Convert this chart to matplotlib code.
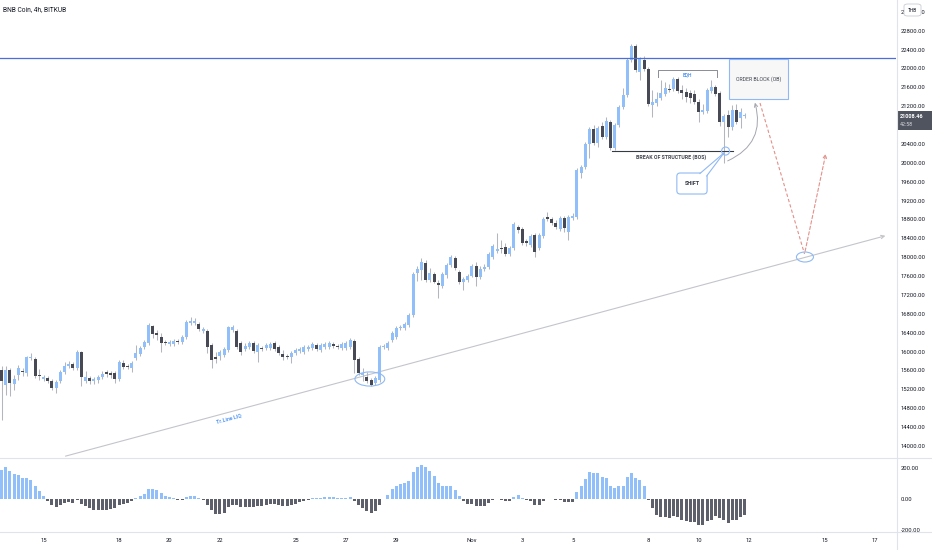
import datetime as dt
import math

import matplotlib

matplotlib.use("Agg")
import matplotlib.pyplot as plt
import numpy as np
from matplotlib.lines import Line2D
from matplotlib.patches import Ellipse, FancyArrowPatch, FancyBboxPatch, Polygon, Rectangle

W, H = 932, 550
UP = "#90bff9"
DOWN = "#474a54"
WICK = "#b3b6bd"
TEXT = "#131722"
SEP = "#e0e3eb"
OUTLINE = "#8fb9f3"

plt.rcParams["font.family"] = ["Roboto", "DejaVu Sans"]

TITLE = "BNB Coin, 4h, BITKUB"
FIRST_CANDLE = dt.datetime(2021, 10, 13, 8)
CANDLE_HOURS = 4

OPEN = [
    15610, 15290, 15610, 15310, 15510, 15590, 15550, 15870, 15840, 15510,
    15420, 15440, 15380, 15230, 15380, 15570, 15700, 15740, 15650, 15990,
    15380, 15440, 15380, 15400, 15460, 15570, 15550, 15550, 15420, 15760,
    15700, 15650, 15860, 15950, 16100, 16180, 16540, 16400, 16310, 16200,
    16160, 16160, 16230, 16200, 16310, 16610, 16610, 16590, 16440, 16440,
    16140, 15890, 15910, 15930, 16030, 16460, 16440, 16180, 16060, 16100,
    16180, 15990, 16080, 16080, 16080, 16180, 16100, 15950, 15910, 15890,
    15970, 16010, 15990, 16060, 16080, 16140, 16030, 16100, 16100, 16160,
    16120, 16080, 16080, 16100, 16230, 15840, 15510, 15460, 15400, 15340,
    15400, 16100, 16080, 16250, 16310, 16500, 16500, 16560, 16780, 17670,
    17730, 17880, 17520, 17650, 17450, 17390, 17620, 17840, 17980, 17690,
    17480, 17520, 17600, 17810, 17580, 17750, 17790, 18010, 18130, 18190,
    18220, 18070, 18200, 18640, 18600, 18340, 18260, 18470, 18200, 18450,
    18850, 18810, 18730, 18600, 18830, 18540, 18830, 18850, 19780, 19910,
    20400, 20720, 20420, 20780, 20550, 20870, 20310, 20800, 21180, 21440,
    22180, 22480, 21930, 22180, 21990, 21230, 21270, 21380, 21460, 21570,
    21560, 21780, 21540, 21500, 21480, 21460, 21290, 21080, 21100, 21520,
    21610, 21480, 20870, 21010, 20760, 21120, 20950, 21000,
]
HIGH = [
    15700, 15700, 15650, 15510, 15720, 15650, 15910, 15970, 15890, 15630,
    15510, 15480, 15420, 15400, 15610, 15780, 15800, 15780, 16030, 16010,
    15590, 15480, 15460, 15510, 15590, 15610, 15590, 15590, 15820, 15820,
    15740, 15800, 16140, 16120, 16250, 16610, 16560, 16460, 16400, 16250,
    16250, 16270, 16270, 16350, 16670, 16730, 16710, 16630, 16520, 16480,
    16180, 15990, 16030, 16100, 16540, 16560, 16480, 16230, 16180, 16230,
    16230, 16180, 16120, 16180, 16200, 16230, 16140, 16030, 15950, 16010,
    16080, 16100, 16140, 16140, 16200, 16180, 16180, 16200, 16230, 16200,
    16160, 16200, 16230, 16290, 16270, 15890, 15650, 15570, 15440, 15480,
    16140, 16160, 16230, 16440, 16540, 16560, 16630, 16820, 17690, 17810,
    17980, 17940, 17770, 17690, 17520, 17690, 17880, 18050, 18030, 17730,
    17580, 17650, 17860, 17900, 17810, 17860, 18110, 18280, 18510, 18370,
    18300, 18240, 18750, 18680, 18640, 18390, 18490, 18510, 18510, 18850,
    18960, 18850, 18790, 18870, 18870, 18890, 18940, 19890, 19950, 20440,
    20760, 20800, 20780, 20870, 20970, 20910, 20840, 21230, 21590, 22220,
    22520, 22520, 22240, 22260, 22030, 21540, 21500, 21760, 21710, 21670,
    21820, 21820, 21650, 21590, 21540, 21540, 21350, 21250, 21590, 21760,
    21650, 21520, 21040, 21120, 21230, 21250, 21160, 21050,
]
LOW = [
    14550, 15080, 15060, 15190, 15400, 15480, 15480, 15820, 15440, 15400,
    15380, 15340, 15190, 15120, 15340, 15530, 15650, 15610, 15610, 15270,
    15340, 15310, 15310, 15340, 15420, 15460, 15440, 15340, 15380, 15630,
    15630, 15570, 15820, 15910, 16060, 16140, 16290, 16250, 15990, 16140,
    16120, 16120, 16160, 16160, 16270, 16560, 16560, 16440, 16400, 15970,
    15650, 15760, 15820, 15890, 15990, 16420, 16060, 15930, 16010, 16060,
    15970, 15780, 16010, 16030, 16030, 16010, 15930, 15820, 15840, 15760,
    15930, 15970, 15950, 16010, 16030, 16010, 15990, 16060, 16060, 16080,
    16060, 16030, 16030, 16060, 15550, 15510, 15380, 15340, 15270, 15290,
    15360, 16060, 16030, 16200, 16270, 16460, 16460, 16520, 16730, 17500,
    17520, 17480, 17480, 17460, 17140, 17350, 17560, 17790, 17730, 17430,
    17310, 17480, 17580, 17390, 17540, 17710, 17750, 17960, 18090, 18090,
    18030, 18030, 18150, 18510, 18260, 18240, 18220, 18010, 18150, 18410,
    18770, 18680, 18600, 18560, 18540, 18370, 18790, 18810, 19680, 19870,
    20100, 20380, 20340, 20510, 20510, 20270, 20270, 20760, 21140, 21400,
    22140, 21930, 21760, 21950, 21200, 20980, 21200, 21330, 21420, 21500,
    21520, 21480, 21350, 21290, 21270, 21250, 20870, 21040, 21060, 21480,
    21420, 20780, 20000, 20550, 20700, 20820, 20740, 20950,
]
CLOSE = [
    15380, 15610, 15340, 15420, 15650, 15570, 15890, 15890, 15480, 15480,
    15460, 15380, 15230, 15360, 15570, 15700, 15740, 15650, 15990, 15460,
    15460, 15380, 15420, 15460, 15530, 15530, 15500, 15420, 15780, 15670,
    15670, 15760, 15970, 16080, 16200, 16560, 16370, 16350, 16180, 16180,
    16200, 16230, 16200, 16310, 16630, 16650, 16650, 16480, 16480, 16100,
    15820, 15840, 15990, 16060, 16520, 16520, 16100, 15990, 16120, 16180,
    16010, 16140, 16060, 16140, 16160, 16060, 15970, 15890, 15890, 15970,
    16030, 16060, 16100, 16100, 16160, 16060, 16140, 16160, 16180, 16120,
    16100, 16160, 16180, 16250, 15820, 15550, 15550, 15380, 15290, 15440,
    16100, 16120, 16180, 16400, 16500, 16520, 16590, 16780, 17650, 17750,
    17900, 17520, 17670, 17480, 17410, 17650, 17830, 18010, 17770, 17480,
    17540, 17600, 17810, 17580, 17750, 17790, 18070, 18240, 18170, 18170,
    18070, 18200, 18700, 18580, 18300, 18300, 18450, 18110, 18470, 18810,
    18810, 18730, 18640, 18830, 18620, 18850, 18880, 19850, 19910, 20400,
    20720, 20420, 20740, 20550, 20890, 20310, 20800, 21180, 21440, 22180,
    22480, 21970, 22200, 21990, 21250, 21290, 21350, 21480, 21590, 21540,
    21780, 21520, 21480, 21390, 21370, 21290, 21080, 21120, 21540, 21610,
    21460, 20870, 20990, 20760, 21120, 20870, 21080, 21008.46,
]
# oscillator histogram under the price pane
HIST = [
    189, 204, 178, 163, 153, 135, 135, 125, 82, 49,
    21, -11, -37, -52, -37, -26, -19, -26, -9, -32,
    -47, -58, -69, -73, -73, -69, -62, -58, -41, -32,
    -26, -15, 6, 17, 34, 64, 64, 60, 39, 21,
    13, 4, -9, -9, 11, 19, 19, 6, -9, -37,
    -69, -95, -95, -90, -52, -37, -41, -52, -52, -52,
    -52, -47, -43, -41, -32, -32, -37, -47, -47, -37,
    -30, -22, -15, -9, 6, 9, 9, 11, 15, 11,
    6, 6, 9, 13, -15, -41, -58, -75, -90, -80,
    -37, 2, 28, 64, 86, 99, 103, 114, 172, 204,
    221, 204, 178, 146, 103, 82, 82, 82, 60, 17,
    -15, -30, -32, -43, -47, -47, -26, -9, 2, -9,
    -13, -13, 13, 28, 6, -9, -15, -41, -41, -15,
    2, 2, -9, -4, -19, -19, -19, 45, 82, 129,
    172, 168, 168, 142, 135, 86, 71, 82, 86, 140,
    168, 135, 125, 82, -4, -58, -101, -116, -118, -123,
    -112, -116, -133, -144, -148, -151, -166, -170, -144, -133,
    -112, -123, -138, -155, -133, -133, -116, -101,
]

TICK_DATES = [
    dt.datetime(2021, 10, 15), dt.datetime(2021, 10, 18), dt.datetime(2021, 10, 20),
    dt.datetime(2021, 10, 22), dt.datetime(2021, 10, 25), dt.datetime(2021, 10, 27),
    dt.datetime(2021, 10, 29), dt.datetime(2021, 11, 1), dt.datetime(2021, 11, 3),
    dt.datetime(2021, 11, 5), dt.datetime(2021, 11, 8), dt.datetime(2021, 11, 10),
    dt.datetime(2021, 11, 12), dt.datetime(2021, 11, 15), dt.datetime(2021, 11, 17),
]
TICK_LABELS = ["15", "18", "20", "22", "25", "27", "29", "Nov", "3", "5", "8", "10", "12", "15", "17"]
PRICE_TICKS = [14000 + 400 * k for k in range(24)]
HIDDEN_TICK = 20800  # sits under the last-price marker
HIST_TICKS = [200, 0, -200]
HIST_LABELS = ["200.00", "0.00", "-200.00"]
COUNTDOWN = "42:58"
CURRENCY = "THB"

# drawings (x in candle index, y in price)
RESISTANCE = 22220
TRENDLINE = [(14.6, 13770), (211.1, 18470)]
TRENDLINE_LABEL = (54.2, 14590, "Tr.Line LIQ")
LOW_RING = (87.7, 15420)
EQH_X = (156.2, 170.3)
EQH_Y = (21970, 21820)
BOS_X = (145.4, 174.2)
BOS_Y = 20250
SHIFT_BOX = (160.8, 19340, 168.0, 19785)
SHIFT_TAIL = [(166.3, 19775), (172.0, 20209), (167.9, 19722)]
SHIFT_CURVE = [(172.3, 20018), (179.2, 21332)]
OB_BOX = (173.3, 21353, 187.3, 22201)
PATH = [(180.6, 21268), (191.2, 18069), (196.4, 20251)]
TARGET_RING = (191.3, 18005)


def candle_index(when: dt.datetime) -> float:
    return (when - FIRST_CANDLE).total_seconds() / 3600 / CANDLE_HOURS


def fig_rect(x0, y0, x1, y1):
    return [x0 / W, 1 - y1 / H, (x1 - x0) / W, (y1 - y0) / H]


def draw_candles(ax):
    o, h, l, c = (np.array(v, dtype=float) for v in (OPEN, HIGH, LOW, CLOSE))
    x = np.arange(len(c))
    colors = np.where(c >= o, UP, DOWN)
    ax.vlines(x, l, h, color=WICK, lw=0.75, zorder=2)
    body = np.maximum(np.abs(c - o), 18)
    ax.bar(x, body, bottom=np.minimum(o, c), width=0.72, color=colors, linewidth=0, zorder=3)


def draw_drawings(ax):
    ax.axhline(RESISTANCE, color="#4a6fdc", lw=0.9, zorder=4)

    (tx0, ty0), (tx1, ty1) = TRENDLINE
    ax.add_patch(FancyArrowPatch((tx0, ty0), (tx1, ty1), arrowstyle="->", mutation_scale=6,
                                 color="#c3c5cb", lw=0.8, zorder=1))
    d0 = ax.transData.transform((tx0, ty0))
    d1 = ax.transData.transform((tx1, ty1))
    angle = math.degrees(math.atan2(d1[1] - d0[1], d1[0] - d0[0]))
    lx, ly, label = TRENDLINE_LABEL
    ax.text(lx, ly, label, rotation=angle, rotation_mode="anchor", ha="center", va="center",
            fontsize=3.8, fontweight="bold", color="#5b9cf6")

    ax.add_patch(Ellipse(LOW_RING, 7.1, 300, fill=False, ec=OUTLINE, lw=0.8, zorder=5))

    # equal highs bracket
    ax.plot([EQH_X[0], EQH_X[0], EQH_X[1], EQH_X[1]], [EQH_Y[1], EQH_Y[0], EQH_Y[0], EQH_Y[1]],
            color="#8a8d96", lw=0.7, zorder=4)
    ax.text(sum(EQH_X) / 2, EQH_Y[0] - 100, "EQH", ha="center", va="center", fontsize=3.5,
            color="#5b9cf6", fontweight="bold")

    ax.plot(BOS_X, [BOS_Y, BOS_Y], color="#363a45", lw=0.8, zorder=4)
    ax.text(sum(BOS_X) / 2 - 0.4, BOS_Y - 120, "BREAK OF STRUCTURE (BOS)", ha="center", va="center",
            fontsize=3.8, fontweight="bold", color="#434651")
    ax.add_patch(Ellipse((172.4, BOS_Y), 1.9, 170, fill=False, ec=OUTLINE, lw=0.8, zorder=5))

    x0, y0, x1, y1 = SHIFT_BOX
    ax.add_patch(FancyBboxPatch((x0, y0), x1 - x0, y1 - y0, boxstyle="round,pad=0,rounding_size=0.8",
                                mutation_aspect=89, fc="white", ec=OUTLINE, lw=0.8, zorder=5))
    ax.add_patch(Polygon(SHIFT_TAIL, closed=True, fc="white", ec="none", zorder=6))
    for a, b in ((SHIFT_TAIL[0], SHIFT_TAIL[1]), (SHIFT_TAIL[1], SHIFT_TAIL[2])):
        ax.plot([a[0], b[0]], [a[1], b[1]], color=OUTLINE, lw=0.8, zorder=6)
    ax.text((x0 + x1) / 2, (y0 + y1) / 2, "SHIFT", ha="center", va="center", fontsize=4.0,
            fontweight="bold", color="#363a45", zorder=7)

    ax.add_patch(FancyArrowPatch(SHIFT_CURVE[0], SHIFT_CURVE[1], connectionstyle="arc3,rad=0.45",
                                 arrowstyle="->", mutation_scale=6, color="#a3a6ad", lw=0.7, zorder=5))

    x0, y0, x1, y1 = OB_BOX
    ax.add_patch(Rectangle((x0, y0), x1 - x0, y1 - y0, fc="#f7f7f8", ec=OUTLINE, lw=0.8, zorder=5))
    ax.text((x0 + x1) / 2, (y0 + y1) / 2, "ORDER BLOCK (OB)", ha="center", va="center",
            fontsize=3.8, color="#434651", zorder=6)

    red = "#e39089"
    ax.plot([PATH[0][0], PATH[1][0]], [PATH[0][1], PATH[1][1]], color=red, lw=0.8,
            dashes=(3, 2), zorder=5)
    ax.add_patch(FancyArrowPatch(PATH[1], PATH[2], arrowstyle="->", mutation_scale=6, color=red,
                                 lw=0.8, linestyle=(0, (3, 2)), zorder=5))
    ax.add_patch(Ellipse(TARGET_RING, 4.05, 212, fill=False, ec=OUTLINE, lw=0.8, zorder=6))


def main() -> None:
    fig = plt.figure(figsize=(W / 100, H / 100), dpi=100, facecolor="white")
    ax = fig.add_axes(fig_rect(0, 0, 896, 457))
    ax_ind = fig.add_axes(fig_rect(0, 457, 896, 532), sharex=ax)

    ax.set_xlim(-0.36, 212.98)
    ax.set_ylim(13767, 23451)
    ax_ind.set_ylim(-213, 271)

    for a in (ax, ax_ind):
        for s in a.spines.values():
            s.set_visible(False)
        a.yaxis.tick_right()
        a.tick_params(axis="y", length=0, pad=3.6, labelsize=4.2, labelcolor=TEXT)

    ax.set_yticks(PRICE_TICKS)
    ax.set_yticklabels(["" if v == HIDDEN_TICK else f"{v:.2f}" for v in PRICE_TICKS])
    ax.tick_params(axis="x", bottom=False, labelbottom=False)

    ax_ind.set_yticks(HIST_TICKS)
    ax_ind.set_yticklabels(HIST_LABELS)
    ax_ind.set_xticks([candle_index(d) for d in TICK_DATES])
    ax_ind.set_xticklabels(TICK_LABELS)
    ax_ind.tick_params(axis="x", length=0, pad=4.5, labelsize=4.2, labelcolor=TEXT)

    draw_candles(ax)
    draw_drawings(ax)

    hist = np.array(HIST, dtype=float)
    ax_ind.bar(np.arange(hist.size), hist, width=0.72, linewidth=0,
               color=np.where(hist >= 0, UP, "#5d606b"))

    # pane separators
    for y in (457.5, 532):
        fig.add_artist(Line2D([0, 1], [1 - y / H] * 2, color=SEP, lw=0.8))
    fig.add_artist(Line2D([896.5 / W] * 2, [0, 1], color=SEP, lw=0.8))

    fig.text(3 / W, 1 - 10 / H, TITLE, fontsize=4.8, va="center", color=TEXT)

    # last price marker on the scale
    last = CLOSE[-1]
    fig.add_artist(Rectangle((897 / W, 1 - 130 / H), 35 / W, 19 / H, transform=fig.transFigure,
                             fc="#50545f", ec="none"))
    fig.text(900 / W, 1 - 116 / H, f"{last:.2f}", fontsize=4.0, fontweight="bold", color="white",
             va="center")
    fig.text(900 / W, 1 - 125 / H, COUNTDOWN, fontsize=3.8, color="#d8dae0", va="center")

    fig.add_artist(FancyBboxPatch((904 / W, 1 - 16 / H), 17 / W, 12 / H, transform=fig.transFigure,
                                  boxstyle="round,pad=0,rounding_size=0.004", fc="white",
                                  ec="#c8cbd2", lw=0.6))
    fig.text(912.5 / W, 1 - 10 / H, CURRENCY, fontsize=3.4, ha="center", va="center", color=TEXT)

    fig.savefig("out.png", dpi=100, facecolor="white")


if __name__ == "__main__":
    main()
